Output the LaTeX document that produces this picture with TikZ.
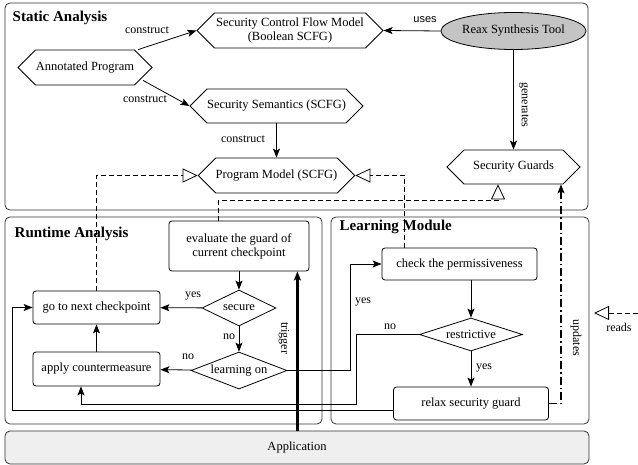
\documentclass[tikz,border=0pt]{standalone}
\usepackage{fontspec}
\setmainfont{Liberation Serif}
\newfontfamily\labsans{Liberation Sans}
\usetikzlibrary{arrows.meta,positioning,calc,shapes.symbols,shapes.geometric}
\definecolor{Frame}{HTML}{333333}
\definecolor{Reax}{HTML}{C4C4C4}
\definecolor{AppFill}{HTML}{EFEFEF}

\begin{document}
\begin{tikzpicture}[x=1pt,y=-1pt,font=\fontsize{12.5}{14}\selectfont,line width=.8pt,
  >={Stealth[length=9pt,width=7pt,inset=2pt]},
  hexa/.style={draw,signal,signal to=west and east,signal pointer angle=90,inner sep=0pt,minimum height=35pt},
  proc/.style={draw,rounded corners=3pt,inner sep=0pt,minimum height=33pt},
  cond/.style={draw,diamond,aspect=2.6,inner sep=0pt},
  frame/.style={draw=Frame,rounded corners=5pt},
  title/.style={font=\fontsize{15}{17}\selectfont\bfseries,anchor=west},
  lab/.style={font=\fontsize{12}{14}\selectfont},
  reads/.style={dash pattern=on 5pt off 3pt,-{Triangle[open,length=15pt,width=14pt]}},
  updates/.style={line width=1.2pt,dash pattern=on 8pt off 3pt on 1.5pt off 3pt,->}]
\useasboundingbox (0,0) rectangle (638,465);
\draw[frame] (5,3) rectangle (588,210);
\node[title] (sa) at (9,18) {Static Analysis};
\node[hexa,minimum width=134pt] (annot) at (85,67.5) {Annotated Program};
\node[hexa,minimum width=186pt,align=center] (scfm) at (290,30.5) {Security Control Flow Model\\(Boolean SCFG)};
\node[hexa,minimum width=153pt,minimum height=34pt] (sem) at (276.5,106) {Security Semantics (SCFG)};
\node[hexa,minimum width=153pt] (pmodel) at (276.5,175.5) {Program Model (SCFG)};
\node[draw,ellipse,fill=Reax,minimum width=137pt,minimum height=37pt,inner sep=0pt] (reax) at (513.5,31) {Reax Synthesis Tool};
\node[hexa,minimum width=133pt,minimum height=34pt] (guards) at (513.5,167) {Security Guards};
\draw[->] ([xshift=53pt]annot.north) -- (scfm.west);
\node[lab] (c1) at (147,30) {construct};
\draw[->] ([xshift=58pt,yshift=5pt]annot.south) -- (sem.west);
\node[lab] (c2) at (145,99) {construct};
\draw[->] (sem.south) -- (pmodel.north);
\node[lab] (c3) at (243,139) {construct};
\draw[->] (reax.west) -- (scfm.east);
\node[lab,font=\labsans\fontsize{11}{13}\selectfont] (us) at (425,20) {uses};
\draw[->] (reax.south) -- (guards.north);
\node[lab,rotate=-90] (gen) at (524,105) {generates};

\draw[frame] (5,217) rectangle (322,424);
\node[title] (ra) at (11,234) {Runtime Analysis};
\node[proc,minimum width=140pt,minimum height=50pt,align=center] (eval) at (239,246) {evaluate the guard of\\current checkpoint};
\node[cond,minimum width=74pt,minimum height=36pt] (secure) at (239,308) {secure};
\node[proc,minimum width=127pt] (gonext) at (96.5,307.5) {go to next checkpoint};
\node[cond,minimum width=96pt,minimum height=37pt] (learn) at (239,370.5) {learning on};
\node[proc,minimum width=127pt,minimum height=34pt] (counter) at (96.5,369) {apply countermeasure};

\draw[frame] (331,217) rectangle (589,424);
\node[title] (lm) at (336,227) {Learning Module};
\node[proc,minimum width=155pt,minimum height=32pt] (check) at (459.5,264) {check the permissiveness};
\node[cond,minimum width=103pt,minimum height=33pt] (restr) at (471,334.5) {restrictive};
\node[proc,minimum width=155pt] (relax) at (471,403.5) {relax security guard};

\node[draw=Frame,fill=AppFill,rounded corners=5pt,minimum width=584pt,minimum height=33pt] (app) at (297,447.5) {Application};
\coordinate (trig) at ([xshift=-12pt]eval.south east);
\draw[line width=2.4pt,->] (app.north -| trig) -- (trig);
\node[lab,rotate=-90] (tr) at (284,338) {trigger};

\draw[->] (eval) -- (secure);
\draw[->] (secure) -- (gonext);
\node[lab] (y1) at (193,296) {yes};
\draw[->] (secure) -- (learn);
\node[lab] (n1) at (229,337) {no};
\draw[->] (learn) -- (counter);
\node[lab] (n2) at (188,357) {no};
\draw[->] (counter) -- (gonext);
\draw[->] (learn.east) -- ++(63,0) |- (check.west);
\node[lab] (y2) at (363,302) {yes};
\draw[->] (check.south -| restr) -- (restr.north);
\draw[->] (restr) -- (relax);
\node[lab] (y3) at (484,368) {yes};
\draw[->] (restr.west) -- ++(-63,0) -- ++(0,69.5) -| ([xshift=-15.5pt]counter.south);
\node[lab] (n3) at (390,327) {no};
\draw[->] ([yshift=-7pt]relax.west) -- ++(-381,0) |- (gonext.west);

\draw[reads] (gonext.north) |- (pmodel.west);
\draw[reads] ([xshift=-55pt]check.north) |- (pmodel.east);
\draw[reads] ([xshift=-21pt]eval.north) |- ++(0,-20) -| ([xshift=-15.5pt]guards.south);
\draw[updates] (relax.east) -| ([xshift=47.5pt]guards.south);
\node[lab,rotate=-90] (up) at (576,338) {updates};

\coordinate (rdfrom) at (638,313);
\coordinate (rdto) at (594,313);
\draw[reads] (rdfrom) -- (rdto);
\node[lab] (rd) at (619,327) {reads};
\end{tikzpicture}
\end{document}
